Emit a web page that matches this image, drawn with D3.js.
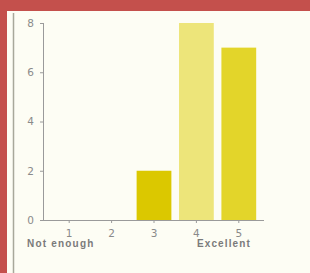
<!DOCTYPE html>
<html>
<head>
<meta charset="utf-8">
<script src="https://cdn.jsdelivr.net/npm/d3@7"></script>
<style>
  body { margin:0; background:#c4504c; }
  #canvas { width:310px; height:273px; }
  .axis text { font-family:"DejaVu Sans", sans-serif; font-size:10.5px; fill:#8a8a8a; }
  .axis .domain { display:none; }
  .axis line { stroke:#9a9a9a; }
</style>
</head>
<body>
<div id="canvas" class="canvas"></div>
<script>
// survey rating answers
var ratings = [1, 2, 3, 4, 5];
var counts = [0, 0, 2, 8, 7];
var barColors = ['#dccb10', '#dccb10', '#dbc800', '#ede57a', '#e3d52a'];
var yTicks = [0, 2, 4, 6, 8];
var endLabels = ['Not enough', 'Excellent'];

var outerWidth = 310, outerHeight = 273;

var svg = d3.select('.canvas')
    .append('svg')
    .attr('width', outerWidth)
    .attr('height', outerHeight);

// cream panel with red frame around it
svg.append('rect').attr('x', 7).attr('y', 11).attr('width', 303).attr('height', 262).attr('fill', '#fdfdf4');
svg.append('line').attr('x1', 13.5).attr('x2', 13.5).attr('y1', 13).attr('y2', 273)
    .attr('stroke', '#a8a89a').attr('stroke-width', 1.5);

var scaleX = d3.scaleBand()
    .domain(ratings)
    .range([48, 260])
    .paddingInner(0.18)
    .paddingOuter(0.09);

var scaleY = d3.scaleLinear()
    .domain([0, 8])
    .range([220, 23]);

var plot = svg.append('g');

plot.selectAll('.bar')
    .data(ratings)
    .enter()
    .append('rect')
    .attr('class', 'bar')
    .attr('x', function(d){ return scaleX(d); })
    .attr('y', function(d, i){ return scaleY(counts[i]); })
    .attr('width', scaleX.bandwidth())
    .attr('height', function(d, i){ return scaleY(0) - scaleY(counts[i]); })
    .attr('fill', function(d, i){ return barColors[i]; });

// axes
var axisY = d3.axisLeft(scaleY).tickValues(yTicks).tickSize(3).tickPadding(6);
plot.append('g').attr('class', 'axis axis-y')
    .attr('transform', 'translate(43,0)')
    .call(axisY);

var axisX = d3.axisBottom(scaleX).tickSize(3).tickPadding(7);
plot.append('g').attr('class', 'axis axis-x')
    .attr('transform', 'translate(0,220)')
    .call(axisX);

// axis lines
plot.append('line').attr('x1', 43.5).attr('x2', 43.5).attr('y1', scaleY(8)).attr('y2', scaleY(0))
    .attr('stroke', '#9a9a9a');
plot.append('line').attr('x1', 43).attr('x2', 264).attr('y1', scaleY(0) + 0.5).attr('y2', scaleY(0) + 0.5)
    .attr('stroke', '#9a9a9a');

// end labels
plot.append('text').attr('x', 27).attr('y', 247)
    .attr('font-family', 'Liberation Sans, sans-serif')
    .attr('font-size', 10).attr('font-weight', 'bold').attr('fill', '#7a7a7a')
    .attr('letter-spacing', 1.2)
    .text(endLabels[0]);
plot.append('text').attr('x', 197).attr('y', 247)
    .attr('font-family', 'Liberation Sans, sans-serif')
    .attr('font-size', 10).attr('font-weight', 'bold').attr('fill', '#7a7a7a')
    .attr('letter-spacing', 1.1)
    .text(endLabels[1]);
</script>
</body>
</html>
